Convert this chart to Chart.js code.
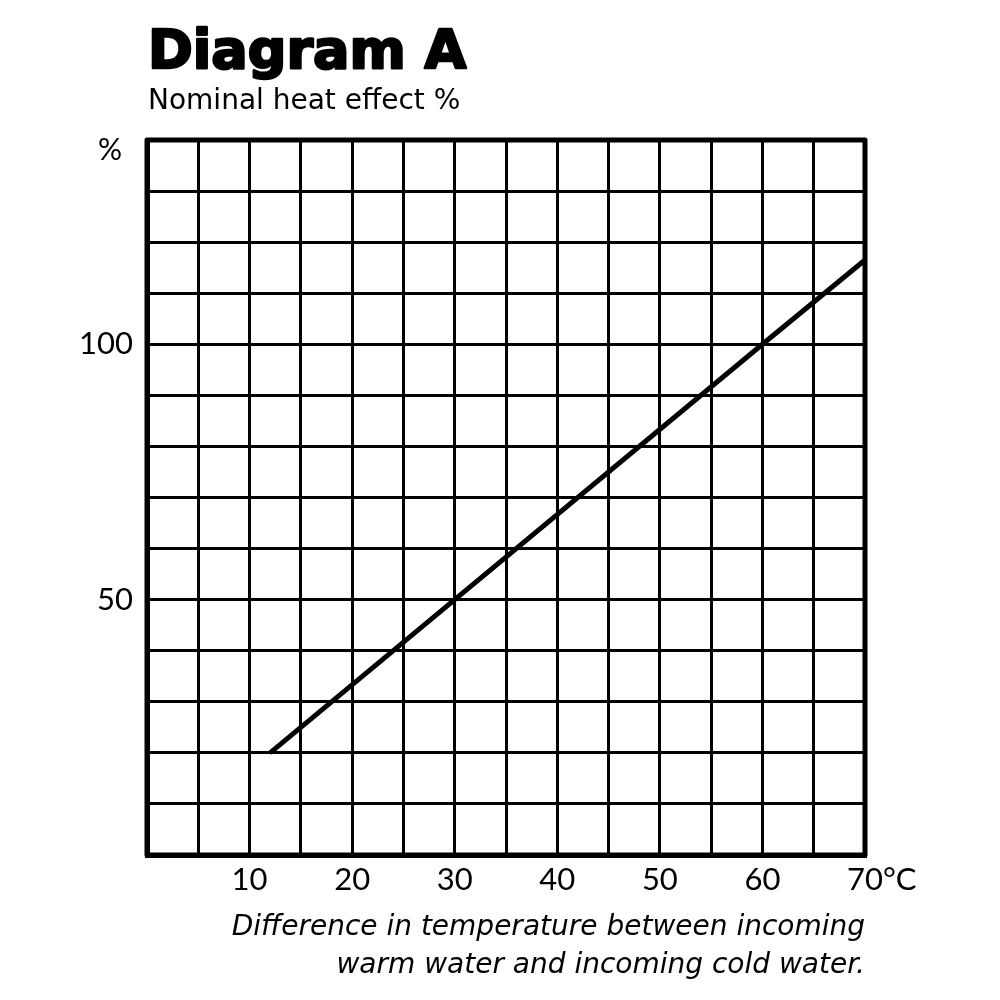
<!DOCTYPE html>
<html lang="en">
<head>
    <meta charset="UTF-8">
    <title>Diagram A</title>
    <script src="https://cdn.jsdelivr.net/npm/chart.js"></script>
    <style>
        body {
            margin: 0;
            background: #ffffff;
        }
        #wrap {
            width: 1000px;
            height: 1000px;
        }
    </style>
</head>
<body>
    <div id="wrap"><canvas id="diagram" width="1000" height="1000"></canvas></div>
    <script>
        // values
        const tempDiff = [12, 30, 60, 70];          // °C
        const heatEffect = [20, 50, 100, 116.5];     // %
        const xLabels = [10, 20, 30, 40, 50, 60, 70];
        const yLabels = [50, 100];
        const xTitle = ["Difference in temperature between incoming", "warm water and incoming cold water."];

        const INK = "#000000";
        const NUM_FONT = { family: "Lato", size: 31 };

        // heading, % sign, unit and outer frame
        const extras = {
            id: "extras",
            afterDraw(chart) {
                const ctx = chart.ctx;
                const area = chart.chartArea;
                ctx.save();
                ctx.fillStyle = INK;
                ctx.strokeStyle = INK;
                ctx.textAlign = "left";
                ctx.textBaseline = "alphabetic";
                ctx.font = "bold 54px 'DejaVu Sans'";
                ctx.lineWidth = 2.5;
                ctx.lineJoin = "round";
                ctx.fillText("Diagram A", area.left + 1, 68);
                ctx.strokeText("Diagram A", area.left + 1, 68);
                ctx.font = "28px 'DejaVu Sans'";
                ctx.fillText("Nominal heat effect %", area.left + 1, 109);

                ctx.font = "30px Lato";
                ctx.textAlign = "right";
                ctx.fillText("%", area.left - 25, 160);

                // unit after the last x label, on the same line as it
                const xs = chart.scales.x;
                const item = xs.getLabelItems().find((it) => it.label === "70");
                if (item) {
                    ctx.font = item.font.string;
                    const w = ctx.measureText("70").width;
                    ctx.textAlign = "left";
                    ctx.textBaseline = item.options.textBaseline;
                    ctx.fillText("°C", item.options.translation[0] + w / 2, item.options.translation[1] + item.textOffset);
                }

                ctx.lineWidth = 5;
                ctx.strokeRect(area.left, area.top, area.right - area.left, area.bottom - area.top);
                ctx.restore();
            }
        };

        new Chart(document.getElementById("diagram"), {
            type: "line",
            data: {
                datasets: [{
                    data: tempDiff.map((t, i) => ({ x: t, y: heatEffect[i] })),
                    borderColor: INK,
                    borderWidth: 5,
                    pointRadius: 0,
                    tension: 0,
                    fill: false
                }]
            },
            options: {
                responsive: false,
                animation: false,
                devicePixelRatio: 1,
                layout: { padding: { top: 140, right: 135, left: 0, bottom: 0 } },
                plugins: {
                    legend: { display: false },
                    tooltip: { enabled: false }
                },
                scales: {
                    x: {
                        type: "linear",
                        min: 0,
                        max: 70,
                        afterFit(scale) { scale.height = 145; },
                        grid: { color: INK, lineWidth: 3, drawTicks: false },
                        border: { display: true, color: INK, width: 5 },
                        ticks: {
                            stepSize: 5,
                            autoSkip: false,
                            maxRotation: 0,
                            padding: 6,
                            color: INK,
                            font: NUM_FONT,
                            callback: (v) => xLabels.includes(v) ? String(v) : ""
                        },
                        title: {
                            display: true,
                            text: xTitle,
                            align: "end",
                            color: INK,
                            font: { family: "DejaVu Sans", size: 28, style: "italic", lineHeight: "38px" },
                            padding: { top: 0, bottom: 15 }
                        }
                    },
                    y: {
                        type: "linear",
                        min: 0,
                        max: 140,
                        afterFit(scale) { scale.width = 147; },
                        grid: { color: INK, lineWidth: 3, drawTicks: false },
                        border: { display: true, color: INK, width: 5 },
                        ticks: {
                            stepSize: 10,
                            autoSkip: false,
                            padding: 14,
                            color: INK,
                            font: NUM_FONT,
                            callback: (v) => yLabels.includes(v) ? String(v) : ""
                        }
                    }
                }
            },
            plugins: [extras]
        });
    </script>
</body>
</html>
